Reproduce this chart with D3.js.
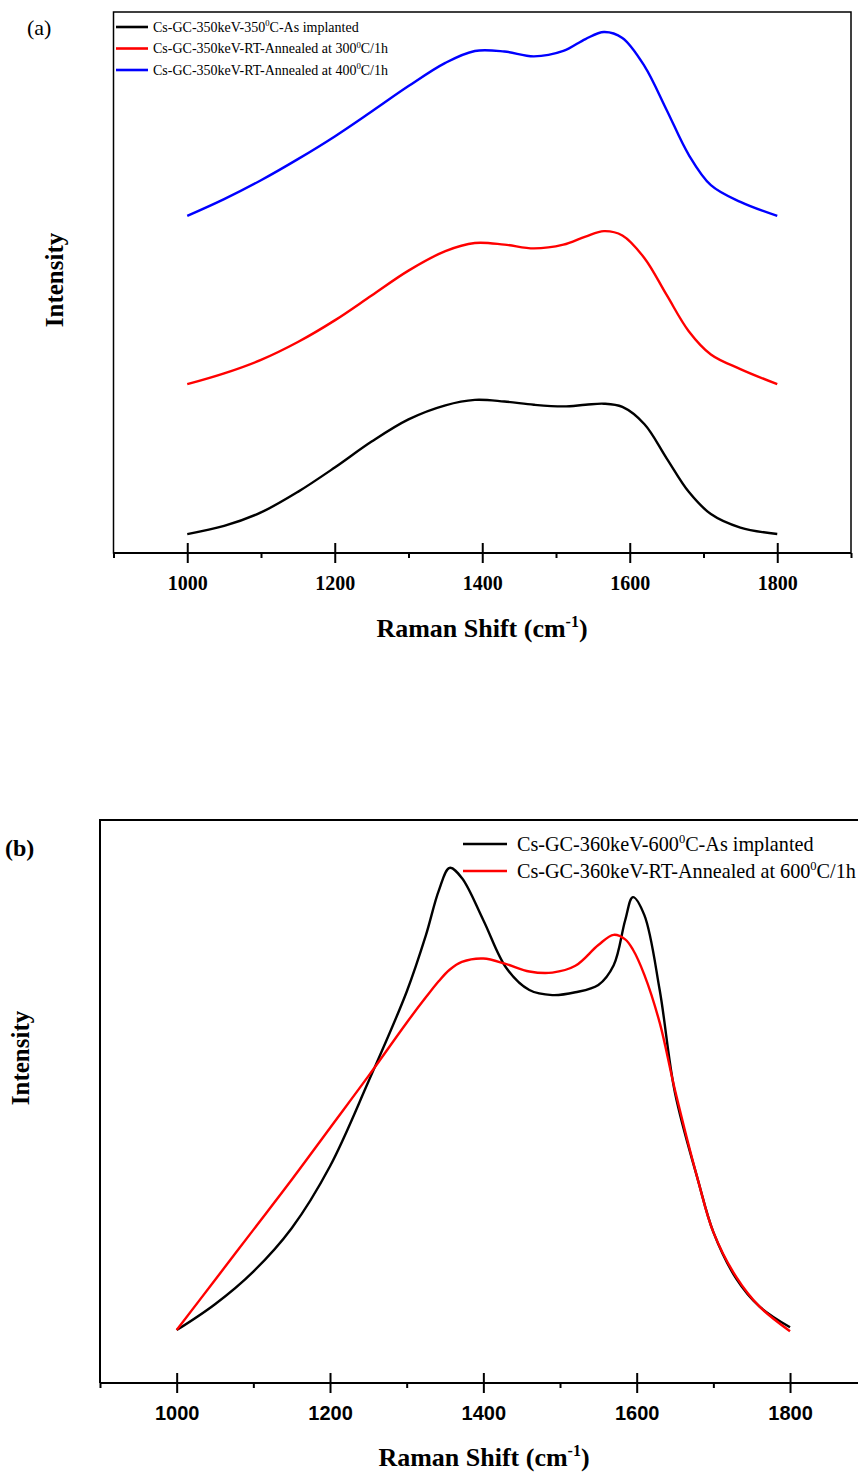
<!DOCTYPE html>
<html>
<head>
<meta charset="utf-8">
<script src="https://cdn.jsdelivr.net/npm/d3@7"></script>
<style>
  html, body { margin: 0; padding: 0; background: #ffffff; }
  svg { display: block; }
</style>
</head>
<body>
<svg id="chart" width="858" height="1477"></svg>
<script>
// ---- Panel (a): Raman spectra, 350 keV series (stacked, arbitrary units) ----
const shiftA = [1000,1050,1100,1150,1200,1250,1300,1350,1390,1430,1470,1510,1540,1565,1590,1620,1650,1680,1710,1750,1800];
const asImplantedA = [3.5,5.0,7.5,11.3,15.8,20.6,24.7,27.3,28.3,28.0,27.4,27.1,27.4,27.6,27.0,23.8,17.5,11.3,7.2,4.7,3.5];
const annealed300A = [31.2,33.2,35.7,39.0,43.0,47.6,52.2,55.8,57.3,57.0,56.3,57.0,58.5,59.5,58.7,54.5,47.7,41.0,36.7,34.0,31.2];
const annealed400A = [62.3,65.4,68.9,72.8,77.0,81.6,86.3,90.6,92.8,92.7,91.8,92.8,95.0,96.3,95.2,90.0,81.9,73.6,68.0,64.9,62.3];
const legendA = [
  ["Cs-GC-350keV-350", "0", "C-As implanted"],
  ["Cs-GC-350keV-RT-Annealed at 300", "0", "C/1h"],
  ["Cs-GC-350keV-RT-Annealed at 400", "0", "C/1h"]
];

// ---- Panel (b): Raman spectra, 360 keV series ----
const shiftB = [1000,1050,1100,1150,1200,1250,1300,1325,1342,1356,1372,1400,1430,1460,1490,1520,1550,1570,1585,1595,1610,1630,1650,1680,1700,1730,1760,1800];
const asImplantedB = [9.4,14.0,19.8,27.5,38.5,53.5,69.5,79.5,87.5,91.5,89.7,82.2,73.7,69.8,68.9,69.4,70.7,74.2,82.2,86.3,83.1,69.8,51.5,36.0,26.8,18.5,13.6,9.9];
const annealed600B = [9.4,18.3,27.2,36.1,45.3,54.5,64.0,68.5,71.4,73.4,74.8,75.4,74.4,73.1,72.9,74.1,77.8,79.6,78.8,77.0,72.5,64.0,52.0,36.0,26.8,18.8,13.6,9.2];
const legendB = [
  ["Cs-GC-360keV-600", "0", "C-As implanted"],
  ["Cs-GC-360keV-RT-Annealed at 600", "0", "C/1h"]
];

const majorTicks = [1000,1200,1400,1600,1800];
const minorTicks = [900,1100,1300,1500,1700,1900];

const SERIF = "'Liberation Serif', 'Times New Roman', serif";
const SANS = "'Liberation Sans', Arial, sans-serif";

const svg = d3.select("#chart");
svg.append("rect").attr("width", 858).attr("height", 1477).attr("fill", "#ffffff");

function drawPanel(cfg) {
  const g = svg.append("g");
  const x = d3.scaleLinear().domain([900, 1900]).range([cfg.left, cfg.right]);
  const y = d3.scaleLinear().domain([0, 100]).range([cfg.bottom, cfg.top]);

  // frame
  if (cfg.fullBox) {
    g.append("rect")
      .attr("x", cfg.left).attr("y", cfg.top)
      .attr("width", cfg.right - cfg.left).attr("height", cfg.bottom - cfg.top)
      .attr("fill", "none").attr("stroke", "#000").attr("stroke-width", 1.5);
  } else {
    g.append("path")
      .attr("d", `M${cfg.left},${cfg.bottom}V${cfg.top}H${cfg.right}`)
      .attr("fill", "none").attr("stroke", "#000").attr("stroke-width", 2);
  }

  // bottom axis: major ticks (crossing), minor ticks (outward)
  const axMajor = g.append("g")
    .attr("transform", `translate(0,${cfg.bottom})`)
    .call(d3.axisBottom(x).tickValues(majorTicks).tickSize(10).tickPadding(cfg.tickPad).tickFormat(d3.format("d")));
  axMajor.select(".domain").attr("stroke-width", 2.2).attr("d", `M${cfg.left},0H${cfg.right}`);
  axMajor.selectAll(".tick line").attr("y1", -10).attr("stroke-width", 2);
  axMajor.selectAll(".tick text")
    .attr("font-family", cfg.tickFont).attr("font-weight", "bold")
    .attr("font-size", cfg.tickSize).attr("fill", "#000");

  const axMinor = g.append("g")
    .attr("transform", `translate(0,${cfg.bottom})`)
    .call(d3.axisBottom(x).tickValues(minorTicks).tickSize(5).tickFormat(""));
  axMinor.select(".domain").remove();
  axMinor.selectAll(".tick line").attr("stroke-width", 2);

  // x-axis title
  const title = g.append("text")
    .attr("x", cfg.titleX).attr("y", cfg.titleY)
    .attr("text-anchor", "middle")
    .attr("font-family", SERIF).attr("font-weight", "bold").attr("font-size", 26);
  title.append("tspan").text("Raman Shift (cm");
  title.append("tspan").attr("font-size", 16).attr("dy", -10).text("-1");
  title.append("tspan").attr("dy", 10).text(")");

  // y-axis title
  g.append("text")
    .attr("transform", `translate(${cfg.yTitleX},${cfg.yTitleY}) rotate(-90)`)
    .attr("text-anchor", "middle")
    .attr("font-family", SERIF).attr("font-weight", "bold").attr("font-size", 25)
    .text("Intensity");

  // panel tag
  g.append("text")
    .attr("x", cfg.tagX).attr("y", cfg.tagY)
    .attr("font-family", SERIF).attr("font-weight", cfg.tagBold ? "bold" : "normal")
    .attr("font-size", cfg.tagSize)
    .text(cfg.tag);

  // spectra
  const line = d3.line()
    .x(d => x(d[0])).y(d => y(d[1]))
    .curve(d3.curveCatmullRom.alpha(0.5));
  cfg.series.forEach(s => {
    g.append("path")
      .datum(d3.zip(s.shift, s.values))
      .attr("fill", "none").attr("stroke", s.color)
      .attr("stroke-width", 2.4).attr("stroke-linejoin", "round")
      .attr("d", line);
  });

  // legend
  cfg.series.forEach((s, i) => {
    const ly = cfg.legY + i * cfg.legStep;
    g.append("line")
      .attr("x1", cfg.legX1).attr("x2", cfg.legX2)
      .attr("y1", ly).attr("y2", ly)
      .attr("stroke", s.color).attr("stroke-width", 2.6);
    const t = g.append("text")
      .attr("x", cfg.legTextX).attr("y", ly + cfg.legFont * 0.33)
      .attr("font-family", SERIF).attr("font-size", cfg.legFont).attr("fill", "#000");
    const parts = s.label;
    t.append("tspan").text(parts[0]);
    t.append("tspan").attr("font-size", cfg.legFont * 0.62).attr("dy", -cfg.legFont * 0.38).text(parts[1]);
    t.append("tspan").attr("dy", cfg.legFont * 0.38).text(parts[2]);
  });
}

drawPanel({
  left: 113.5, right: 851, top: 12, bottom: 553, fullBox: true,
  tickFont: SERIF, tickSize: 20, tickPad: 13,
  titleX: 482, titleY: 637,
  yTitleX: 63, yTitleY: 280,
  tag: "(a)", tagX: 27, tagY: 35, tagSize: 22, tagBold: false,
  legX1: 116, legX2: 148, legTextX: 153, legY: 27, legStep: 21.5, legFont: 14,
  series: [
    { shift: shiftA, values: asImplantedA, color: "#000000", label: legendA[0] },
    { shift: shiftA, values: annealed300A, color: "#ff0000", label: legendA[1] },
    { shift: shiftA, values: annealed400A, color: "#0000ff", label: legendA[2] }
  ]
});

drawPanel({
  left: 100, right: 866.7, top: 820, bottom: 1383, fullBox: false,
  tickFont: SANS, tickSize: 20, tickPad: 13,
  titleX: 484, titleY: 1466,
  yTitleX: 29, yTitleY: 1058,
  tag: "(b)", tagX: 5, tagY: 856, tagSize: 24, tagBold: true,
  legX1: 463, legX2: 507, legTextX: 517, legY: 844, legStep: 27, legFont: 20.2,
  series: [
    { shift: shiftB, values: asImplantedB, color: "#000000", label: legendB[0] },
    { shift: shiftB, values: annealed600B, color: "#ff0000", label: legendB[1] }
  ]
});
</script>
</body>
</html>
